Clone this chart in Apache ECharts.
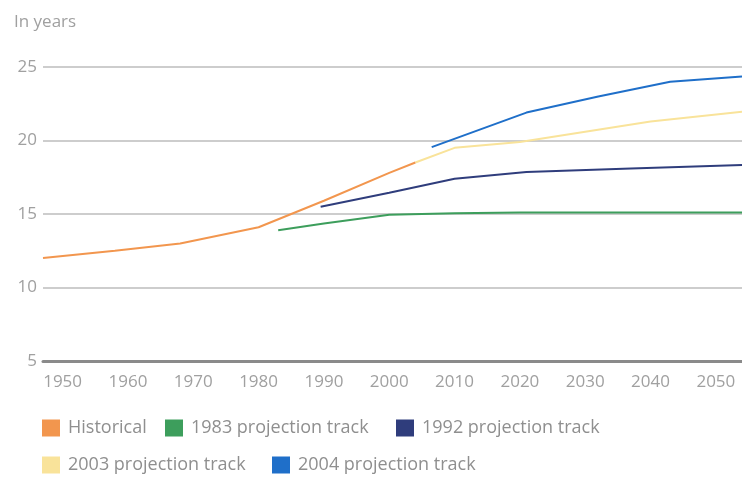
<!DOCTYPE html>
<html>
<head>
<meta charset="utf-8">
<script src="https://cdn.jsdelivr.net/npm/echarts@6/dist/echarts.min.js"></script>
<style>html,body{margin:0;padding:0;background:#fff}#c{width:742px;height:481px}</style>
</head>
<body>
<div id="c"></div>
<script>
const xTickLabels = [1950,1960,1970,1980,1990,2000,2010,2020,2030,2040,2050];
const yTicks = [5,10,15,20,25];
const seriesNames = ['Historical','1983 projection track','1992 projection track','2003 projection track','2004 projection track'];
const historical = [[1947,12.0],[1958,12.5],[1968,13.0],[1980,14.1],[1990,15.9],[2000,17.8],[2004,18.5]];
const track1983 = [[1983,13.9],[1990,14.35],[2000,14.95],[2010,15.05],[2020,15.1],[2054,15.1]];
const track1992 = [[1989.5,15.5],[2000,16.45],[2010,17.4],[2021,17.85],[2037,18.1],[2054,18.33]];
const track2003 = [[2004,18.5],[2010,19.5],[2020,19.9],[2030,20.6],[2040,21.3],[2054,21.95]];
const track2004 = [[2006.5,19.55],[2021,21.9],[2032,23.0],[2043,24.0],[2054,24.35]];
const colors = ['#f2964e','#3d9e5c','#2f3d7c','#f9e39a','#1f6fc9'];

const chart = echarts.init(document.getElementById('c'));
const font = 'Open Sans';
const allData = [historical, track1983, track1992, track2003, track2004];
const legendPos = [[42,419],[165,419],[396,419],[42,456],[272,456]];
chart.setOption({
  animation:false,
  title:{text:'In years',left:14,top:14,padding:0,textStyle:{fontFamily:font,fontSize:17,fontWeight:'normal',color:'#a0a0a0'}},
  legend: seriesNames.map((n,i)=>({
    data:[n], left:legendPos[i][0], top:legendPos[i][1], itemWidth:18, itemHeight:17, itemGap:0, padding:0,
    icon:'rect', textStyle:{fontFamily:font,fontSize:18,color:'#8f8f8f',padding:[0,0,0,3]}
  })),
  grid:{left:43,right:0,top:67,bottom:120},
  xAxis:{type:'value',min:1947,max:2054,
    axisLine:{show:true,lineStyle:{color:'#8a8a8a',width:3}},
    axisTick:{show:false},splitLine:{show:false},
    axisLabel:{customValues:xTickLabels,fontFamily:font,fontSize:17,color:'#a0a0a0',margin:13,formatter:v=>String(v)}},
  yAxis:{type:'value',min:5,max:25,interval:5,
    axisLine:{show:false},axisTick:{show:false},
    splitLine:{lineStyle:{color:'#bdbdbd',width:1.5}},
    axisLabel:{fontFamily:font,fontSize:17,color:'#a0a0a0',margin:6}},
  series: seriesNames.map((n,i)=>({
    name:n,type:'line',data:allData[i],showSymbol:false,symbol:'none',
    lineStyle:{color:colors[i],width:2},itemStyle:{color:colors[i]},z:i===0?5:3
  }))
});
</script>
</body>
</html>
